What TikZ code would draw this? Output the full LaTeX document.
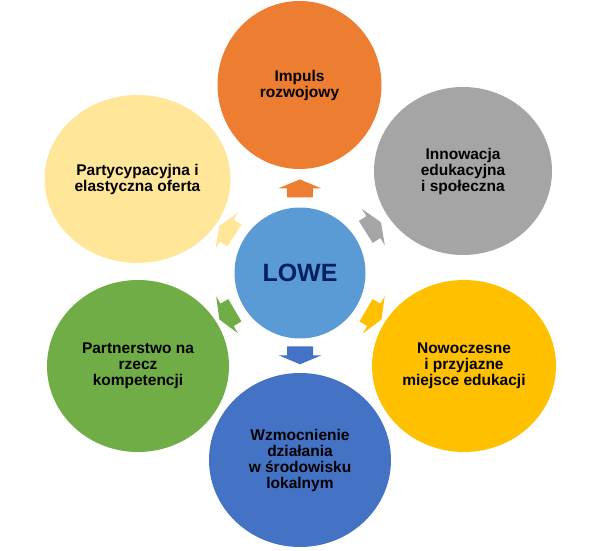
\documentclass[tikz,border=0pt]{standalone}
\usepackage{fontspec}
\setmainfont{Liberation Sans}
\usetikzlibrary{shapes.geometric,calc}
\definecolor{cOrange}{HTML}{ED7D31}
\definecolor{cGray}{HTML}{A5A5A5}
\definecolor{cGold}{HTML}{FFC000}
\definecolor{cBlue}{HTML}{4472C4}
\definecolor{cGreen}{HTML}{70AD47}
\definecolor{cLight}{HTML}{FFE699}
\definecolor{cCenter}{HTML}{5B9BD5}
\definecolor{cNavy}{HTML}{002060}
\tikzset{
  outer/.style={ellipse, inner sep=0pt, align=center, text=black,
    font=\fontsize{15.5}{16}\selectfont\bfseries},
  blockarr/.pic={\fill (-9,-13) -- (0,-13) -- (0,-21.5) -- (9,0) -- (0,21.5) -- (0,13) -- (-9,13) -- cycle;}
}
\begin{document}
\begin{tikzpicture}[x=1pt,y=1pt]
\useasboundingbox (0,0) rectangle (594,551);
% outer circles
\node[outer, fill=cOrange, minimum width=164pt, minimum height=168pt] (o1) at (299.5,466) {Impuls\\rozwojowy};
\node[outer, fill=cGray,   minimum width=178pt, minimum height=168pt] (o2) at (463,380) {Innowacja\\edukacyjna\\i społeczna};
\node[outer, fill=cGold,   minimum width=184pt, minimum height=172pt] (o3) at (464,185) {Nowoczesne\\i przyjazne\\miejsce edukacji};
\node[outer, fill=cBlue,   minimum width=182pt, minimum height=174pt] (o4) at (300,91) {Wzmocnienie\\działania\\w środowisku\\lokalnym};
\node[outer, fill=cGreen,  minimum width=182pt, minimum height=172pt] (o5) at (138,185) {Partnerstwo na\\rzecz\\kompetencji};
\node[outer, fill=cLight,  minimum width=186pt, minimum height=168pt] (o6) at (137.5,372) {Partycypacyjna i\\elastyczna oferta};
% centre
\node[circle, fill=cCenter, minimum size=131pt, inner sep=0pt, text=cNavy,
      font=\fontsize{25}{28}\selectfont\bfseries] (c) at (300,278) {LOWE};
% block arrow positions
\coordinate (a1) at ($(c.center)!0.45!(o1.center)$);
\coordinate (a2) at ($(c.center)!0.45!(o2.center)$);
\coordinate (a3) at ($(c.center)!0.45!(o3.center)$);
\coordinate (a4) at ($(c.center)!0.44!(o4.center)$);
\coordinate (a5) at ($(c.center)!0.45!(o5.center)$);
\coordinate (a6) at ($(c.center)!0.45!(o6.center)$);
% block arrows
\path (a1) pic[cOrange, rotate=90]    {blockarr};
\path (a2) pic[cGray,   rotate=32.3]  {blockarr};
\path (a3) pic[cGold,   rotate=-30.5] {blockarr};
\path (a4) pic[cBlue,   rotate=-90]   {blockarr};
\path (a5) pic[cGreen,  rotate=210.5] {blockarr};
\path (a6) pic[cLight,  rotate=147.7] {blockarr};
\end{tikzpicture}
\end{document}
